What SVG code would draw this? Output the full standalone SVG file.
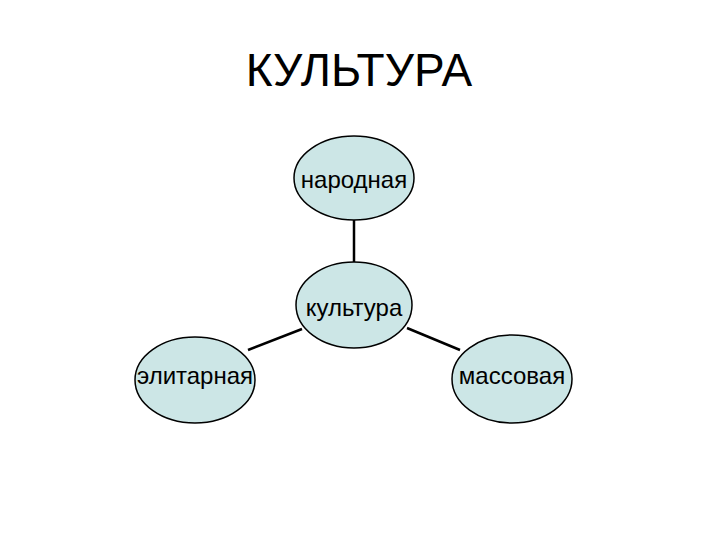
<svg xmlns="http://www.w3.org/2000/svg" width="720" height="540" viewBox="0 0 720 540">
<style>
.n{fill:#cce6e6;stroke:#000;stroke-width:1.5}
.t{font-family:"Liberation Sans",Arial,sans-serif;font-size:24px;text-anchor:middle;fill:#000}
.c{stroke:#000;stroke-width:2.5}
</style>
<rect width="720" height="540" fill="#fff"/>
<text x="359" y="86" style="font-family:'Liberation Sans',Arial,sans-serif;font-size:46px;text-anchor:middle">КУЛЬТУРА</text>
<g id="connectors">
<line class="c" x1="354" y1="220" x2="354" y2="262"/>
<line class="c" x1="302" y1="329" x2="248" y2="350"/>
<line class="c" x1="407" y1="328" x2="460" y2="350"/>
</g>
<g id="narodnaya"><ellipse class="n" cx="354" cy="178" rx="60" ry="42"/><text class="t" x="354" y="188">народная</text></g>
<g id="kultura"><ellipse class="n" cx="354" cy="305" rx="58" ry="43"/><text class="t" x="354" y="316">культура</text></g>
<g id="elitarnaya"><ellipse class="n" cx="195" cy="380" rx="60" ry="43"/><text class="t" x="195" y="384">элитарная</text></g>
<g id="massovaya"><ellipse class="n" cx="512" cy="379" rx="60" ry="44"/><text class="t" x="512" y="384">массовая</text></g>
</svg>
